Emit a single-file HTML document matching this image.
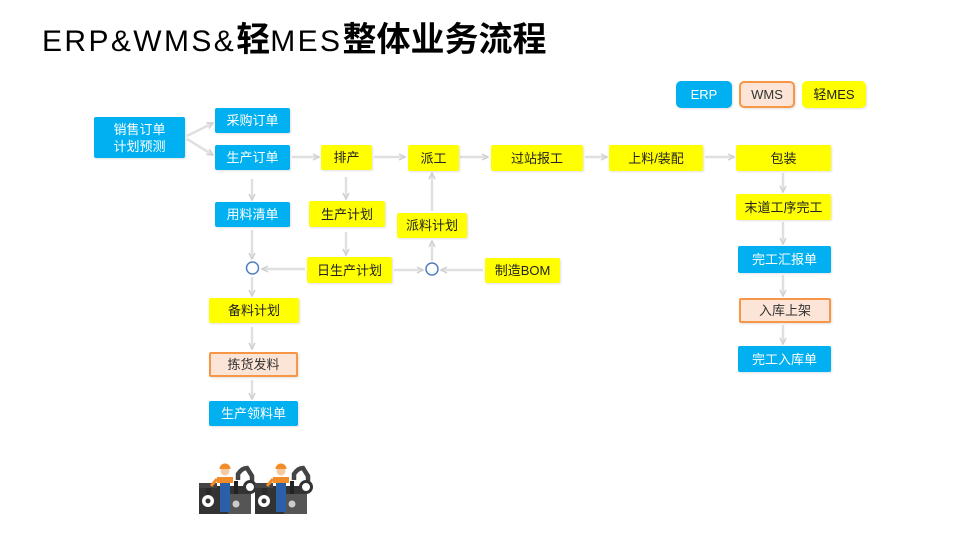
<!DOCTYPE html>
<html><head><meta charset="utf-8">
<style>
html,body{margin:0;padding:0;background:#fff;}
#c{position:relative;width:960px;height:540px;overflow:hidden;background:#fff;font-family:"Liberation Sans","Noto Sans CJK SC",sans-serif;}
.t{position:absolute;left:42px;top:18px;color:#000;white-space:nowrap;line-height:44px;}
.t .l{font-size:30px;letter-spacing:2.4px;}
.t b{font-size:34px;font-weight:bold;}
.b{position:absolute;display:flex;align-items:center;justify-content:center;font-size:13px;box-sizing:border-box;border-radius:2px;box-shadow:1px 1px 2px rgba(0,0,0,0.12);text-align:center;line-height:17px;}
.e{background:#00b0f0;color:#fff;}
.m{background:#ffff00;color:#222;}
.w{background:#fce4d6;color:#333;border:2px solid #f79646;}
svg{position:absolute;left:0;top:0;}
</style></head><body><div id="c">
<div class="t"><span class="l">ERP&amp;WMS&amp;</span><b>轻</b><span class="l">MES</span><b>整体业务流程</b></div>

<svg width="960" height="540">
<defs>
<marker id="a" markerWidth="8" markerHeight="8" refX="7" refY="4" orient="auto" markerUnits="userSpaceOnUse">
<path d="M1,1 L7,4 L1,7" fill="none" stroke="#d0d0d0" stroke-width="1.5"/>
</marker>
</defs>
<g stroke="#e0e0e0" stroke-width="2.5" fill="none" marker-end="url(#a)">
<line x1="187" y1="136" x2="213" y2="123"/>
<line x1="187" y1="139" x2="213" y2="155"/>
<line x1="292" y1="157" x2="319" y2="157"/>
<line x1="374" y1="157" x2="405" y2="157"/>
<line x1="460" y1="157" x2="488" y2="157"/>
<line x1="585" y1="157" x2="607" y2="157"/>
<line x1="705" y1="157" x2="734" y2="157"/>
<line x1="783" y1="173" x2="783" y2="192"/>
<line x1="783" y1="222" x2="783" y2="244"/>
<line x1="783" y1="275" x2="783" y2="296"/>
<line x1="783" y1="325" x2="783" y2="344"/>
<line x1="252" y1="179" x2="252" y2="200"/>
<line x1="252" y1="230" x2="252" y2="259"/>
<line x1="252" y1="277" x2="252" y2="296"/>
<line x1="252" y1="327" x2="252" y2="349"/>
<line x1="252" y1="380" x2="252" y2="399"/>
<line x1="346" y1="177" x2="346" y2="199"/>
<line x1="346" y1="232" x2="346" y2="255"/>
<line x1="305" y1="269" x2="262" y2="269"/>
<line x1="394" y1="270" x2="423" y2="270"/>
<line x1="483" y1="270" x2="441" y2="270"/>
<line x1="432" y1="261" x2="432" y2="241"/>
<line x1="432" y1="211" x2="432" y2="173"/>
</g>
<circle cx="252.5" cy="268" r="6" fill="#fff" stroke="#4f7fc0" stroke-width="1.5"/>
<circle cx="432" cy="269" r="6" fill="#fff" stroke="#4f7fc0" stroke-width="1.5"/>

<!-- workers -->
<g id="wk">
<rect x="199" y="486" width="52" height="28" fill="#333"/>
<rect x="228" y="494" width="23" height="20" fill="#555"/>
<rect x="199" y="483" width="18" height="5" fill="#444"/>
<rect x="206" y="488" width="5" height="8" fill="#2a2a2a"/>
<circle cx="208" cy="501" r="6" fill="#fff"/>
<circle cx="208" cy="501" r="2.5" fill="#333"/>
<circle cx="236" cy="504" r="3.5" fill="#ccc"/>
<path d="M238,480 L238,474 Q242,468 247,468 L252,476 L252,484" stroke="#444" stroke-width="4.5" fill="none"/>
<circle cx="250" cy="487" r="5.5" fill="#fff" stroke="#333" stroke-width="3"/>
<rect x="220" y="477" width="10" height="35" fill="#2b5fa8"/>
<rect x="217" y="477" width="16" height="6" fill="#f28c28"/>
<path d="M217,479 L211,486" stroke="#f28c28" stroke-width="3"/>
<circle cx="225" cy="471" r="4.5" fill="#f5c9a0"/>
<path d="M219.5,469 A5.5,5.5 0 0 1 230.5,469 Z" fill="#f28c28"/>
<rect x="234" y="481" width="4" height="13" fill="#222"/>
</g>
<use href="#wk" x="56"/>
</svg>

<div class="b e" style="left:94px;top:117px;width:91px;height:41px;">销售订单<br>计划预测</div>
<div class="b e" style="left:215px;top:108px;width:75px;height:25px;">采购订单</div>
<div class="b e" style="left:215px;top:145px;width:75px;height:25px;">生产订单</div>
<div class="b m" style="left:321px;top:145px;width:51px;height:25px;">排产</div>
<div class="b m" style="left:408px;top:145px;width:51px;height:26px;">派工</div>
<div class="b m" style="left:491px;top:145px;width:92px;height:26px;">过站报工</div>
<div class="b m" style="left:609px;top:145px;width:94px;height:26px;">上料/装配</div>
<div class="b m" style="left:736px;top:145px;width:95px;height:26px;">包装</div>
<div class="b e" style="left:215px;top:202px;width:75px;height:25px;">用料清单</div>
<div class="b m" style="left:309px;top:201px;width:76px;height:26px;">生产计划</div>
<div class="b m" style="left:397px;top:213px;width:70px;height:25px;">派料计划</div>
<div class="b m" style="left:307px;top:257px;width:85px;height:26px;">日生产计划</div>
<div class="b m" style="left:485px;top:258px;width:75px;height:25px;">制造BOM</div>
<div class="b m" style="left:209px;top:298px;width:90px;height:25px;">备料计划</div>
<div class="b w" style="left:209px;top:352px;width:89px;height:25px;">拣货发料</div>
<div class="b e" style="left:209px;top:401px;width:89px;height:25px;">生产领料单</div>
<div class="b m" style="left:736px;top:194px;width:95px;height:26px;">末道工序完工</div>
<div class="b e" style="left:738px;top:246px;width:93px;height:27px;">完工汇报单</div>
<div class="b w" style="left:739px;top:298px;width:92px;height:25px;">入库上架</div>
<div class="b e" style="left:738px;top:346px;width:93px;height:26px;">完工入库单</div>

<div class="b e" style="left:676px;top:81px;width:56px;height:27px;border-radius:5px;">ERP</div>
<div class="b w" style="left:739px;top:81px;width:56px;height:27px;border-radius:5px;">WMS</div>
<div class="b m" style="left:802px;top:81px;width:64px;height:27px;border-radius:5px;">轻MES</div>
</div></body></html>
